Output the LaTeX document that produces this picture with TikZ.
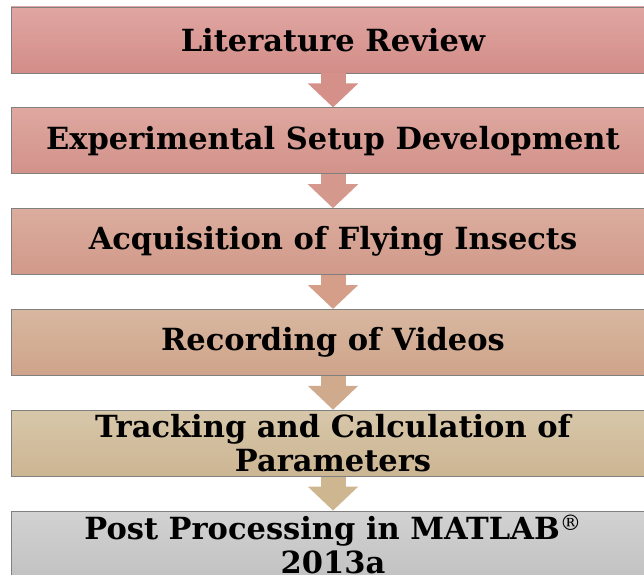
\documentclass[tikz,border=0pt]{standalone}
\usepackage{tikz}
\usepackage{fontspec}
\setmainfont{DejaVu Serif}
\usetikzlibrary{arrows.meta,positioning}
\definecolor{boxgray}{RGB}{128,128,128}
\definecolor{litTop}{RGB}{224,166,162}
\definecolor{litBot}{RGB}{211,141,136}
\definecolor{expTop}{RGB}{222,168,160}
\definecolor{expBot}{RGB}{210,146,138}
\definecolor{acqTop}{RGB}{219,173,158}
\definecolor{acqBot}{RGB}{209,153,137}
\definecolor{recTop}{RGB}{216,183,160}
\definecolor{recBot}{RGB}{206,164,138}
\definecolor{trkTop}{RGB}{215,199,170}
\definecolor{trkBot}{RGB}{204,181,146}
\definecolor{postTop}{RGB}{210,210,210}
\definecolor{postBot}{RGB}{194,194,194}
\definecolor{arrA}{RGB}{213,144,138}
\definecolor{arrB}{RGB}{212,152,141}
\definecolor{arrC}{RGB}{212,158,136}
\definecolor{arrD}{RGB}{208,170,140}
\definecolor{arrE}{RGB}{206,182,145}

\tikzset{
  stagebox/.style={draw=boxgray, line width=0.8pt, minimum width=644pt,
    minimum height=66pt, inner sep=0pt, align=center,
    font=\fontsize{30.5}{34}\selectfont\bfseries},
  flowarrow/.style={line width=25pt, -{Triangle[length=24pt,width=49pt]}},
}

\begin{document}
\begin{tikzpicture}[x=1pt, y=1pt, node distance=34pt]
\clip (0,0) rectangle (644,574);
% stages
\node[stagebox, top color=litTop, bottom color=litBot] (lit) at (333,534) {Literature Review};
\node[stagebox, top color=expTop, bottom color=expBot, below=of lit] (exp) {Experimental Setup Development};
\node[stagebox, top color=acqTop, bottom color=acqBot, below=of exp] (acq) {Acquisition of Flying Insects};
\node[stagebox, top color=recTop, bottom color=recBot, below=of acq] (rec) {Recording of Videos};
\node[stagebox, top color=trkTop, bottom color=trkBot, below=of rec] (trk) {Tracking and Calculation of\\Parameters};
\node[stagebox, top color=postTop, bottom color=postBot, below=of trk] (post) {Post Processing in MATLAB\textsuperscript{\mdseries\textregistered}\\2013a};
% arrows between stages
\draw[flowarrow, arrA] (lit.south) -- (exp.north);
\draw[flowarrow, arrB] (exp.south) -- (acq.north);
\draw[flowarrow, arrC] (acq.south) -- (rec.north);
\draw[flowarrow, arrD] (rec.south) -- (trk.north);
\draw[flowarrow, arrE] (trk.south) -- (post.north);
\end{tikzpicture}
\end{document}
